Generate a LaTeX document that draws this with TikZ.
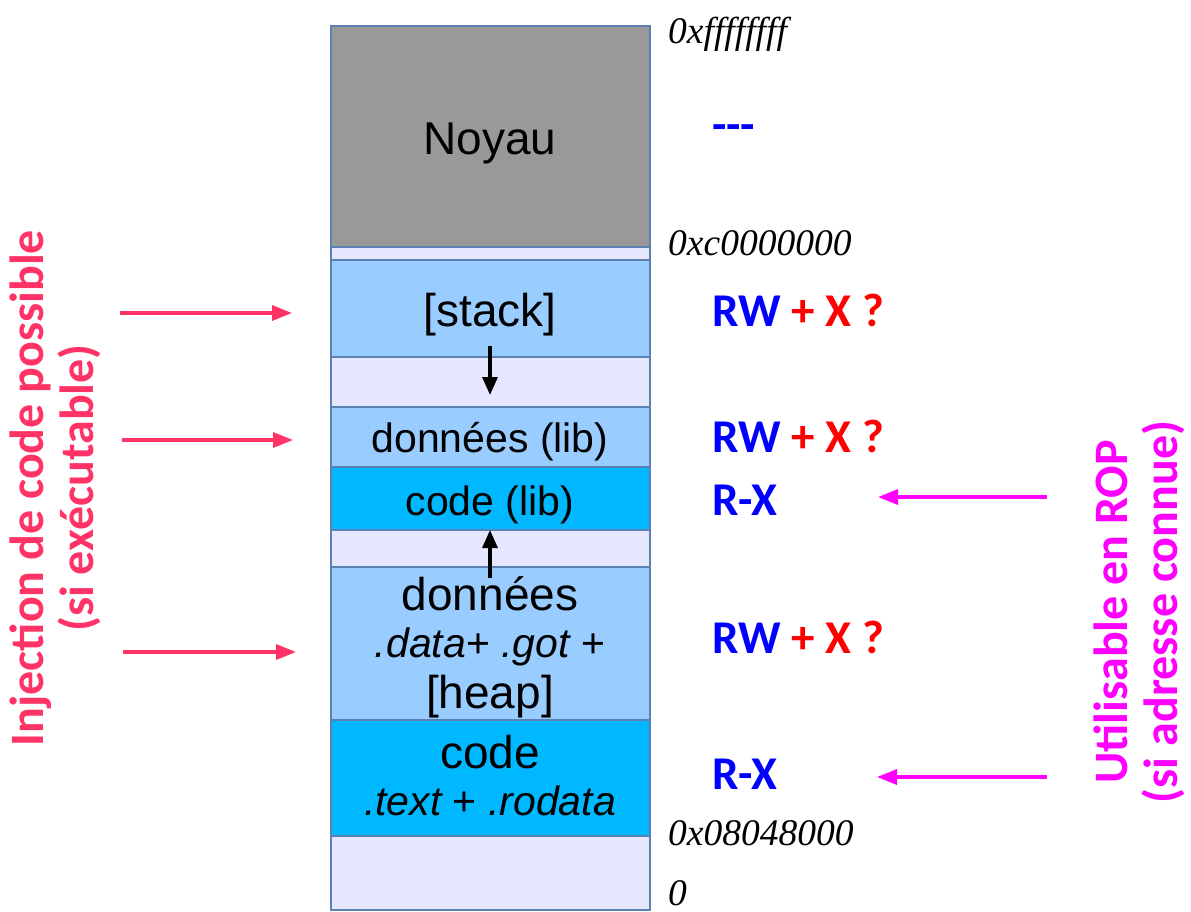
\documentclass[tikz,border=0pt]{standalone}
\usepackage{fontspec}
\setmainfont{Liberation Sans}
\newfontfamily\carlito{Carlito}
\newfontfamily\lserif{Liberation Serif}
\usetikzlibrary{arrows.meta}
\definecolor{noyaugray}{HTML}{999999}
\definecolor{lav}{HTML}{E6E6FF}
\definecolor{lblue}{HTML}{99CCFF}
\definecolor{cyanb}{HTML}{00B8FF}
\definecolor{border}{HTML}{5A80B4}
\definecolor{inj}{HTML}{FF3366}
\definecolor{rop}{HTML}{FF00FF}
\definecolor{permblue}{HTML}{0000FF}
\definecolor{permred}{HTML}{FF0000}
\begin{document}
\begin{tikzpicture}[x=1pt,y=-1pt,
  seg/.style={draw=border, line width=1.5pt, anchor=north west, inner sep=0pt, outer sep=0pt, minimum width=319pt},
  bigtxt/.style={anchor=base, inner sep=0pt, font=\fontsize{46}{50}\selectfont},
  midtxt/.style={anchor=base, inner sep=0pt, font=\fontsize{41}{45}\selectfont},
  addr/.style={anchor=base west, inner sep=0pt, font=\lserif\itshape\fontsize{37.5}{40}\selectfont},
  perm/.style={anchor=base west, inner sep=0pt, font=\carlito\bfseries\fontsize{47}{50}\selectfont},
  growarrow/.style={line width=3.2pt, -{Triangle[length=18pt,width=15pt]}},
  injarrow/.style={draw=inj, line width=3.3pt, -{Triangle[length=20pt,width=15pt]}},
  roparrow/.style={draw=rop, line width=3.3pt, -{Triangle[length=20pt,width=15pt]}},
  sidelabel/.style={rotate=90, align=center, inner sep=0pt, font=\carlito\bfseries\fontsize{48}{50}\selectfont}
]
\useasboundingbox (0,0) rectangle (1191,911);
% memory column
\node[seg, fill=noyaugray, minimum height=221pt] (noyau) at (331,26) {};
\node[seg, fill=lav, minimum height=13pt] (gap1) at (331,247) {};
\node[seg, fill=lblue, minimum height=97pt] (stack) at (331,260) {};
\node[seg, fill=lav, minimum height=50pt] (gap2) at (331,357) {};
\node[seg, fill=lblue, minimum height=60pt] (dlib) at (331,407) {};
\node[seg, fill=cyanb, minimum height=63pt] (clib) at (331,467) {};
\node[seg, fill=lav, minimum height=37pt] (gap3) at (331,530) {};
\node[seg, fill=lblue, minimum height=153pt] (data) at (331,567) {};
\node[seg, fill=cyanb, minimum height=116pt] (code) at (331,720) {};
\node[seg, fill=lav, minimum height=74pt] (gap4) at (331,836) {};
% texts in the column
\node[bigtxt] (tnoyau) at (490,154) {Noyau};
\node[bigtxt] (tstack) at (490,326) {[stack]};
\node[midtxt] (tdlib) at (490,452) {données (lib)};
\node[midtxt] (tclib) at (490,515) {code (lib)};
\node[bigtxt] (tdata) at (490,610) {données};
\node[midtxt] (tdata2) at (490,657) {\itshape .data\upshape+ \itshape.got \upshape+};
\node[bigtxt] (tdata3) at (490,708) {[heap]};
\node[bigtxt] (tcode) at (490,768) {code};
\node[midtxt] (tcode2) at (490,815) {\itshape .text \upshape+ \itshape.rodata};
% growth arrows
\coordinate (sa) at (490,346);
\coordinate (sb) at (490,395);
\draw[growarrow] (sa) -- (sb);
\coordinate (ha) at (490,578);
\coordinate (hb) at (490,530);
\draw[growarrow] (ha) -- (hb);
% addresses
\node[addr] (a1) at (668,43) {0xffffffff};
\node[addr] (a2) at (668,255) {0xc0000000};
\node[addr] (a3) at (668,845) {0x08048000};
\node[addr] (a4) at (668,905) {0};
% permissions
\node[perm, text=permblue] (p0) at (712,140) {-{}-{}-};
\node[perm] (p1) at (712,326) {\textcolor{permblue}{RW} \textcolor{permred}{+ X ?}};
\node[perm] (p2) at (712,452) {\textcolor{permblue}{RW} \textcolor{permred}{+ X ?}};
\node[perm, text=permblue] (p3) at (712,515) {R-X};
\node[perm] (p4) at (712,653) {\textcolor{permblue}{RW} \textcolor{permred}{+ X ?}};
\node[perm, text=permblue] (p5) at (712,789) {R-X};
% left label and arrows
\node[sidelabel, text=inj] (injlab) at (55,488) {Injection de code possible\\(si exécutable)};
\coordinate (i1a) at (120,313); \coordinate (i1b) at (292,313);
\coordinate (i2a) at (122,440); \coordinate (i2b) at (293,440);
\coordinate (i3a) at (123,652); \coordinate (i3b) at (296,652);
\draw[injarrow] (i1a) -- (i1b);
\draw[injarrow] (i2a) -- (i2b);
\draw[injarrow] (i3a) -- (i3b);
% right label and arrows
\node[sidelabel, text=rop] (roplab) at (1139,612) {Utilisable en ROP\\(si adresse connue)};
\coordinate (r1a) at (1047,497); \coordinate (r1b) at (878,497);
\coordinate (r2a) at (1047,777); \coordinate (r2b) at (877,777);
\draw[roparrow] (r1a) -- (r1b);
\draw[roparrow] (r2a) -- (r2b);
\end{tikzpicture}
\end{document}
